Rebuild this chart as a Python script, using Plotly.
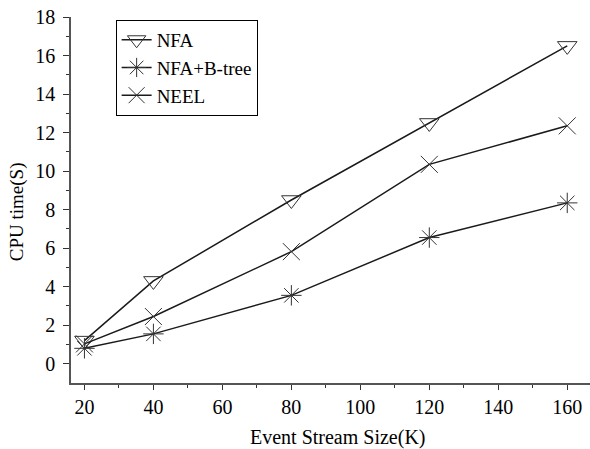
import plotly.graph_objects as go

sizes = [20, 40, 80, 120, 160]
nfa = [1.2, 4.3, 8.5, 12.5, 16.5]
nfa_btree = [0.8, 1.55, 3.55, 6.55, 8.35]
neel = [1.03, 2.45, 5.82, 10.35, 12.35]
series_names = ["NFA", "NFA+B-tree", "NEEL"]
x_title = "Event Stream Size(K)"
y_title = "CPU time(S)"

FONT = "Liberation Serif, Times New Roman, serif"
LC = "#1a1a1a"

fig = go.Figure()
specs = [
    (nfa, "triangle-down-open", 17),
    (nfa_btree, "asterisk-open", 17),
    (neel, "x-thin-open", 17),
]
for name, (vals, sym, sz) in zip(series_names, specs):
    fig.add_trace(go.Scatter(
        x=sizes, y=vals, name=name, mode="lines+markers",
        line=dict(color=LC, width=1.5),
        marker=dict(symbol=sym, size=sz, color="#333333",
                    line=dict(color="#333333", width=1)),
    ))

fig.update_layout(
    width=590, height=449,
    margin=dict(l=71, r=0, t=17, b=66, autoexpand=False),
    plot_bgcolor="white", paper_bgcolor="white",
    font=dict(family=FONT, size=19, color="black"),
    showlegend=True,
    legend=dict(
        x=0.086, y=0.992, xanchor="left", yanchor="top",
        bordercolor="black", borderwidth=1, bgcolor="white",
        font=dict(family=FONT, size=19, color="black"),
        tracegroupgap=0, itemwidth=30,
    ),
    annotations=[
        dict(text=y_title, xref="paper", yref="paper",
             x=-0.105, y=0.468, xanchor="center", yanchor="middle",
             textangle=-90, showarrow=False,
             font=dict(family=FONT, size=19, color="black")),
        dict(text=x_title, xref="paper", yref="paper",
             x=0.514, y=-0.148, xanchor="center", yanchor="middle",
             showarrow=False,
             font=dict(family=FONT, size=20, color="black")),
    ],
)
fig.update_xaxes(
    range=[16.1, 166.6], tickvals=[20, 40, 60, 80, 100, 120, 140, 160],
    automargin=False, ticklabeloverflow="allow",
    showline=True, linecolor="#555555", linewidth=1.5,
    ticks="outside", ticklen=5, tickwidth=1.2, tickcolor="#333333",
    minor=dict(tickvals=[30, 50, 70, 90, 110, 130, 150], ticks="outside",
               ticklen=3, tickwidth=1.2, tickcolor="#333333"),
    showgrid=False, zeroline=False,
    tickfont=dict(family=FONT, size=20),
)
fig.update_yaxes(
    range=[-1, 18], tickvals=list(range(0, 19, 2)),
    automargin=False, ticklabeloverflow="allow",
    showline=True, linecolor="#555555", linewidth=1.5,
    ticks="outside", ticklen=6, tickwidth=1.2, tickcolor="#333333",
    minor=dict(tickvals=list(range(1, 18, 2)), ticks="outside",
               ticklen=3, tickwidth=1.2, tickcolor="#333333"),
    showgrid=False, zeroline=False, ticklabelstandoff=4,
    tickfont=dict(family=FONT, size=20),
)

# remove the browser's default 8px body margin so the figure sits at (0, 0)
fig.write_html("out.html", config={"displayModeBar": False},
               post_script="document.body.style.margin='0';")
